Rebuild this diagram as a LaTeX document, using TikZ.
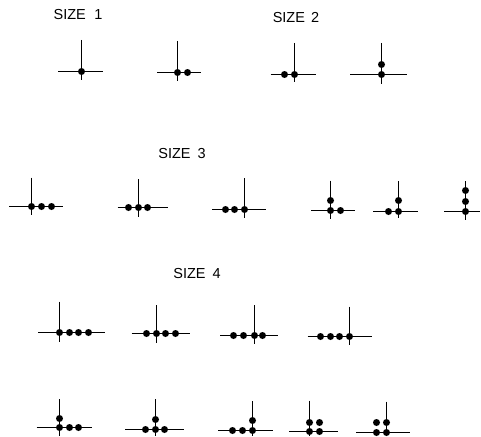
\documentclass[tikz,border=0pt]{standalone}
\usepackage{fontspec}
\setmainfont{Liberation Sans}
\tikzset{
  ax/.style={line width=1.2pt, line cap=butt},
  dot/.style={fill=black},
  lab/.style={font=\fontsize{14.5}{16}\selectfont, inner sep=0pt}
}
\newcommand{\cross}[6]{% vx, vtop, vbot, hleft, hright, hy
  \pgfmathsetmacro\cvx{round(#1-0.5)+0.5}%
  \pgfmathsetmacro\chy{round(#6-0.5)+0.5}%
  \draw[ax] (\cvx,#2) -- (\cvx,#3);
  \draw[ax] (#4,\chy) -- (#5,\chy);
}
\newcommand{\dt}[2]{%
  \pgfmathsetmacro\dx{round(#1-0.5)+0.5}%
  \pgfmathsetmacro\dy{round(#2-0.5)+0.5}%
  \fill[dot] (\dx,\dy) circle (3.5);}
\begin{document}
\begin{tikzpicture}[x=1pt,y=-1pt]
\useasboundingbox (0,0) rectangle (481,436);
% labels
\node[lab] (s1) at (78,15) {SIZE\hspace{0.3em} 1};
\node[lab] (s2) at (296,18) {SIZE\hspace{0.15em} 2};
\node[lab] (s3) at (182,153.5) {SIZE\hspace{0.2em} 3};
\node[lab] (s4) at (197,274) {SIZE\hspace{0.2em} 4};
% size 1
\cross{81.7}{40}{80}{58}{103}{71.7}
\dt{81.7}{71.7}
\cross{177.7}{41}{81}{157}{201}{72.3}
\dt{177.7}{72.3}\dt{187.3}{72.3}
% size 2
\cross{294}{43}{82}{270.7}{315.7}{74}
\dt{284.3}{74}\dt{294}{74}
\cross{381}{43}{84}{350}{406.7}{74.7}
\dt{381}{74.7}\dt{381}{64.7}
% size 3
\cross{31.7}{177.7}{215}{9}{63.3}{206.7}
\dt{31.7}{206.7}\dt{41.7}{206.7}\dt{51}{206.7}
\cross{138}{179}{216.7}{117.7}{168.3}{207.7}
\dt{128.3}{207.7}\dt{138}{207.7}\dt{147.7}{207.7}
\cross{244.7}{178.3}{218.3}{212.3}{265.7}{209.3}
\dt{225}{209.3}\dt{234.7}{209.3}\dt{244.7}{209.3}
\cross{330.3}{180.7}{219.3}{311}{355}{210.7}
\dt{330.3}{210.7}\dt{340}{210.7}\dt{330.3}{200}
\cross{398.3}{181}{218.3}{373.3}{417.7}{211}
\dt{388.3}{211}\dt{398.3}{211}\dt{398.3}{200}
\cross{465.7}{181}{220}{444.3}{480}{211}
\dt{465.7}{211}\dt{465.7}{201.2}\dt{465.7}{190.7}
% size 4, row 1
\cross{59.3}{301.7}{341.7}{38.3}{105}{332.3}
\dt{59.3}{332.3}\dt{69}{332.3}\dt{78.7}{332.3}\dt{88.3}{332.3}
\cross{156.7}{305}{342.7}{131.7}{190}{333.3}
\dt{146.7}{333.3}\dt{156.7}{333.3}\dt{165.7}{333.3}\dt{175}{333.3}
\cross{254}{305}{344.3}{220}{278.3}{335}
\dt{233.3}{335}\dt{243.3}{335}\dt{254}{335}\dt{262.7}{335}
\cross{349}{306.7}{345}{307.7}{371.7}{336.7}
\dt{320}{336.7}\dt{330}{336.7}\dt{339.3}{336.7}\dt{349}{336.7}
% size 4, row 2
\cross{59.3}{399}{436}{36.7}{92.3}{427.7}
\dt{59.3}{427.7}\dt{69}{427.7}\dt{78.7}{427.7}\dt{59.3}{418.3}
\cross{155}{399}{436}{125}{184}{429.3}
\dt{145.7}{429.3}\dt{155}{429.3}\dt{164.3}{429.3}\dt{155}{419}
\cross{252.3}{401}{436}{218.3}{272.7}{430.3}
\dt{232.7}{430.3}\dt{242}{430.3}\dt{252.3}{430.3}\dt{252.3}{420.3}
\cross{309.3}{400.7}{436}{289.3}{337.7}{431}
\dt{309.3}{431}\dt{319}{431}\dt{309.3}{422.3}\dt{319}{422.3}
\cross{386.7}{401.7}{436}{356}{410}{432}
\dt{376.7}{432}\dt{386.7}{432}\dt{376.7}{422.7}\dt{386.7}{422.7}
\end{tikzpicture}
\end{document}
